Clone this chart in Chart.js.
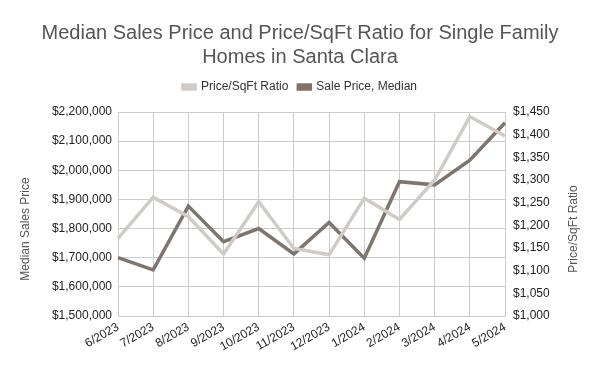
<!DOCTYPE html>
<html>
<head>
<meta charset="utf-8">
<script src="https://cdn.jsdelivr.net/npm/chart.js@4"></script>
<style>
  html, body { margin: 0; padding: 0; background: #fff; }
  #wrap { width: 600px; height: 371px; }
</style>
</head>
<body>
<div id="wrap"><canvas id="grafico"></canvas></div>
<script>
const months = ['6/2023', '7/2023', '8/2023', '9/2023', '10/2023', '11/2023', '12/2023', '1/2024', '2/2024', '3/2024', '4/2024', '5/2024'];
const ratioPerSqFt = [1171, 1262, 1219, 1137, 1252, 1149, 1135, 1260, 1213, 1300, 1440, 1397];
const medianPrice = [1700000, 1658000, 1877000, 1755000, 1800000, 1713000, 1821000, 1698000, 1961000, 1950000, 2035000, 2163000];

const dinero = v => '$' + Number(v).toLocaleString('en-US');

// los títulos de los ejes se dibujan a mano (ambos leen de abajo hacia arriba)
const titulosEjes = {
    id: 'titulosEjes',
    afterDraw(chart) {
        const ctx = chart.ctx;
        ctx.save();
        ctx.fillStyle = '#555555';
        ctx.font = '12px "Liberation Sans", Arial';
        ctx.textAlign = 'center';
        ctx.textBaseline = 'middle';
        [[26, 'Median Sales Price'], [574, 'Price/SqFt Ratio']].forEach(([x, txt]) => {
            ctx.save();
            ctx.translate(x, 229);
            ctx.rotate(-Math.PI / 2);
            ctx.fillText(txt, 0, 0);
            ctx.restore();
        });
        ctx.restore();
    }
};

// un poco más de espacio debajo de la leyenda
const margenLeyenda = {
    id: 'margenLeyenda',
    beforeInit(chart) {
        const fitOrig = chart.legend.fit;
        chart.legend.fit = function() {
            fitOrig.call(this);
            this.height += 9;
        };
    }
};

const dataConfig = {
    labels: months,
    datasets: [{
        label: 'Price/SqFt Ratio',
        data: ratioPerSqFt,
        yAxisID: 'yRight',
        borderColor: '#d1cbc7',
        backgroundColor: '#d1cbc7',
        borderWidth: 3.5,
        pointRadius: 0,
        tension: 0
    }, {
        label: 'Sale Price, Median',
        data: medianPrice,
        yAxisID: 'yLeft',
        borderColor: '#7e766e',
        backgroundColor: '#7e766e',
        borderWidth: 3.5,
        pointRadius: 0,
        tension: 0
    }]
};

const tickFont = { family: 'Liberation Sans, Arial', size: 12 };

const config = {
    type: 'line',
    data: dataConfig,
    plugins: [titulosEjes, margenLeyenda],
    options: {
        responsive: true,
        maintainAspectRatio: false,
        animation: false,
        layout: { padding: { left: 0, right: 0, top: 6, bottom: 0 } },
        plugins: {
            title: {
                display: true,
                text: ['Median Sales Price and Price/SqFt Ratio for Single Family', 'Homes in Santa Clara'],
                color: '#555555',
                font: { family: 'Liberation Sans, Arial', size: 20, weight: 'normal' },
                padding: { top: 15, bottom: 2 }
            },
            legend: {
                position: 'top',
                labels: {
                    color: '#333333',
                    font: { family: 'Liberation Sans, Arial', size: 12 },
                    boxWidth: 12,
                    boxHeight: 4,
                    padding: 10
                }
            },
            tooltip: { enabled: false }
        },
        scales: {
            x: {
                offset: false,
                grid: { color: '#cccccc', drawTicks: false },
                border: { color: '#cccccc' },
                afterFit: s => { s.height = 55; },
                ticks: {
                    color: '#222222',
                    font: tickFont,
                    maxRotation: 30,
                    minRotation: 30,
                    padding: 4,
                    autoSkip: false
                }
            },
            yLeft: {
                position: 'left',
                min: 1500000,
                max: 2200000,
                grid: { color: '#cccccc', drawTicks: false },
                border: { color: '#cccccc' },
                afterFit: s => { s.width = 118; },
                ticks: {
                    stepSize: 100000,
                    color: '#222222',
                    font: tickFont,
                    padding: 6,
                    callback: v => dinero(v)
                }
            },
            yRight: {
                position: 'right',
                min: 1000,
                max: 1450,
                grid: { drawOnChartArea: false, drawTicks: false },
                border: { display: false },
                afterFit: s => { s.width = 95; },
                ticks: {
                    stepSize: 50,
                    color: '#222222',
                    font: tickFont,
                    padding: 8,
                    callback: v => dinero(v)
                }
            }
        }
    }
};

var graficoVentas = new Chart(document.getElementById('grafico'), config);
</script>
</body>
</html>
